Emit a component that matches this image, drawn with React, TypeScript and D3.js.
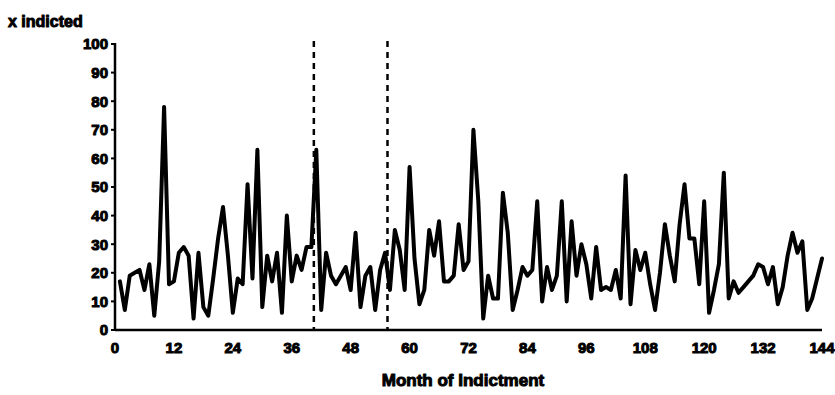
import React from "react";
import * as d3 from "d3";

const width = 835;
const height = 395;

// monthly share indicted (months 1..144)
const pctIndicted = [
  17, 7, 19, 20, 21, 14, 23, 5, 24, 78, 16, 17, 27, 29, 26, 4, 27, 8, 5, 18,
  32, 43, 26, 6, 18, 16, 51, 18, 63, 8, 26, 17, 27, 6, 40, 17, 26, 21, 29, 29,
  63, 7, 27, 19, 16, 19, 22, 14, 34, 8, 19, 22, 7, 21, 27, 14, 35, 28, 14, 57,
  25, 9, 14, 35, 26, 38, 17, 17, 19, 37, 21, 24, 70, 45, 4, 19, 11, 11, 48, 34,
  7, 14, 22, 19, 21, 45, 10, 22, 14, 19, 45, 10, 38, 19, 30, 23, 11, 29, 14, 15,
  14, 21, 11, 54, 9, 28, 21, 27, 16, 7, 20, 37, 26, 17, 37, 51, 32, 32, 16, 45,
  6, 14, 23, 55, 11, 17, 13, 15, 17, 19, 23, 22, 16, 22, 9, 15, 26, 34, 27, 31,
  7, 11, 18, 25,
];
const months = pctIndicted.map((_, i) => i + 1);

// the two dashed markers
const markerMonths = [40.5, 55.5];

const xTicks = [0, 12, 24, 36, 48, 60, 72, 84, 96, 108, 120, 132, 144];
const yTicks = [0, 10, 20, 30, 40, 50, 60, 70, 80, 90, 100];

const font = "'Liberation Sans', Arial, sans-serif";

export default function App() {
  const xScale = d3.scaleLinear().domain([0, 144]).range([115, 822]);
  const yScale = d3.scaleLinear().domain([0, 100]).range([330, 44]);

  const line = d3
    .line<number>()
    .x((d, i) => xScale(months[i]))
    .y((d) => yScale(d));

  const textStyle = {
    fontFamily: font,
    fontWeight: 700,
    fill: "#000",
    stroke: "#000",
    strokeWidth: 1,
    strokeLinejoin: "round" as const,
  };

  return (
    <svg
      width={width}
      height={height}
      style={{ position: "absolute", left: 0, top: 0, background: "#fff" }}
    >
      <text x={8} y={27} fontSize={16} {...textStyle}>
        x indicted
      </text>

      {/* y axis */}
      <line
        x1={xScale(0)}
        x2={xScale(0)}
        y1={yScale(100) - 1}
        y2={yScale(0)}
        stroke="#000"
        strokeWidth={2.5}
      />
      {yTicks.map((t) => (
        <g key={t}>
          <line
            x1={xScale(0) - 4}
            x2={xScale(0)}
            y1={yScale(t)}
            y2={yScale(t)}
            stroke="#000"
            strokeWidth={2}
          />
          <text
            x={xScale(0) - 7}
            y={yScale(t)}
            dy="0.36em"
            textAnchor="end"
            fontSize={15}
            {...textStyle}
          >
            {t}
          </text>
        </g>
      ))}

      {/* x axis */}
      <line
        x1={xScale(0)}
        x2={xScale(144)}
        y1={yScale(0)}
        y2={yScale(0)}
        stroke="#000"
        strokeWidth={2.5}
      />
      {xTicks.map((t) => (
        <text
          key={t}
          x={xScale(t)}
          y={353}
          textAnchor="middle"
          fontSize={15}
          {...textStyle}
        >
          {t}
        </text>
      ))}
      <text
        x={463}
        y={386}
        textAnchor="middle"
        fontSize={17}
        {...textStyle}
      >
        Month of Indictment
      </text>

      {/* dashed markers */}
      {markerMonths.map((m) => (
        <line
          key={m}
          x1={xScale(m)}
          x2={xScale(m)}
          y1={yScale(100) - 3}
          y2={yScale(0)}
          stroke="#000"
          strokeWidth={2.5}
          strokeDasharray="6 5"
        />
      ))}

      <path
        d={line(pctIndicted) || ""}
        fill="none"
        stroke="#000"
        strokeWidth={4}
        strokeLinejoin="round"
        strokeLinecap="round"
      />
    </svg>
  );
}
